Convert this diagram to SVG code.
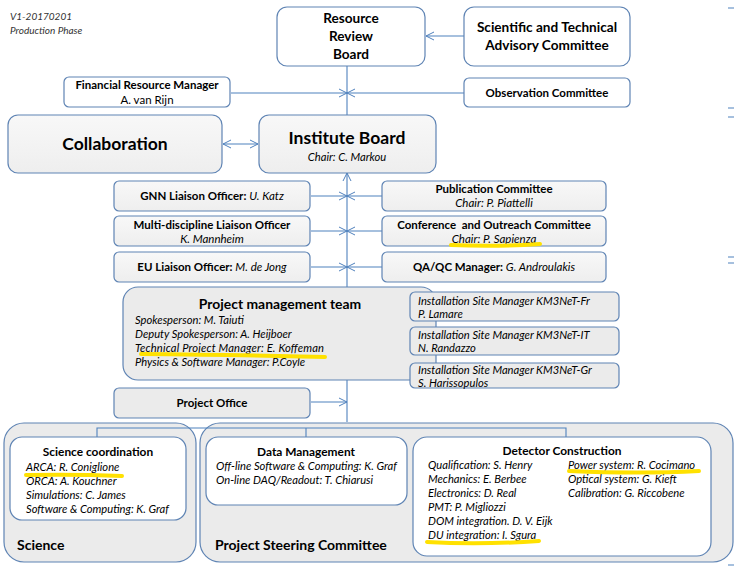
<svg xmlns="http://www.w3.org/2000/svg" width="734" height="567" viewBox="0 0 734 567">
<defs>
<marker id="ah" markerWidth="10" markerHeight="10" refX="9" refY="5" orient="auto" markerUnits="userSpaceOnUse">
<path d="M1,1 L9,5 L1,9" fill="none" stroke="#4f81bd" stroke-width="1"/>
</marker>
<marker id="ahs" markerWidth="10" markerHeight="10" refX="1" refY="5" orient="auto" markerUnits="userSpaceOnUse">
<path d="M9,1 L1,5 L9,9" fill="none" stroke="#4f81bd" stroke-width="1"/>
</marker>
<linearGradient id="g1" x1="0" y1="0" x2="0" y2="1">
<stop offset="0" stop-color="#f8f8f8"/><stop offset="1" stop-color="#eeeeee"/>
</linearGradient>
</defs>
<style>
text{font-family:Lato,"Liberation Sans",sans-serif;fill:#000}
.b{font-weight:bold}
.i{font-style:italic}
.c{text-anchor:middle}
.box{stroke:#5f84b4;stroke-width:1.2}
.w{fill:#ffffff}
.lg{fill:url(#g1)}
.g{fill:#ebebeb}
.ln{stroke:#4f81bd;stroke-width:1.1;fill:none}
.hl{stroke:#ffe100;stroke-width:4;fill:none;stroke-linecap:round}
.s9{font-size:11.2px}
.s10{font-size:11.5px}
.s11{font-size:11.9px}
</style>
<rect width="734" height="567" fill="#ffffff"/>
<text x="10" y="20" class="i" style="font-size:10px;fill:#333">V1-20170201</text>
<text x="10" y="34" class="i" style="font-size:10px;fill:#333">Production Phase</text>

<g id="connectors">
<line class="ln" x1="347" y1="66" x2="347" y2="115"/>
<line class="ln" x1="347" y1="422" x2="347" y2="173" marker-end="url(#ah)"/>
<line class="ln" x1="464" y1="36" x2="426" y2="36" marker-end="url(#ah)"/>
<line class="ln" x1="231" y1="93" x2="347" y2="93" marker-end="url(#ah)"/>
<line class="ln" x1="464" y1="93" x2="347" y2="93" marker-end="url(#ah)"/>
<line class="ln" x1="223" y1="144" x2="258" y2="144" marker-start="url(#ahs)" marker-end="url(#ah)"/>
<line class="ln" x1="311" y1="196" x2="347" y2="196" marker-end="url(#ah)"/>
<line class="ln" x1="382" y1="196" x2="347" y2="196" marker-end="url(#ah)"/>
<line class="ln" x1="311" y1="231" x2="347" y2="231" marker-end="url(#ah)"/>
<line class="ln" x1="382" y1="231" x2="347" y2="231" marker-end="url(#ah)"/>
<line class="ln" x1="311" y1="267" x2="347" y2="267" marker-end="url(#ah)"/>
<line class="ln" x1="382" y1="267" x2="347" y2="267" marker-end="url(#ah)"/>
<line class="ln" x1="311" y1="402" x2="347" y2="402" marker-end="url(#ah)"/>
<path class="ln" d="M728,8 H734 M728,108 H734 M728,117 H734 M728,257 H734 M728,263 H734 M728,565 H734"/>
</g>

<g id="science">
<rect class="box g" x="4" y="423" width="192" height="139" rx="20"/>
<text x="17" y="550" class="b" style="font-size:14px">Science</text>
</g>
<g id="psc">
<rect class="box g" x="200" y="423" width="533" height="139" rx="20"/>
<text x="215" y="550" class="b" style="font-size:14px">Project Steering Committee</text>
</g>
<path class="ln" d="M97,437 V428 H566 V437 M306,428 V437"/>

<g id="resource-review-board">
<rect class="box w" x="277" y="7" width="148" height="59" rx="10"/>
<text x="351" y="23" class="b c" style="font-size:13.6px">Resource</text>
<text x="351" y="41" class="b c" style="font-size:13.6px">Review</text>
<text x="351" y="59" class="b c" style="font-size:13.6px">Board</text>
</g>
<g id="stac">
<rect class="box w" x="464" y="7" width="166" height="59" rx="10"/>
<text x="547" y="32" class="b c" style="font-size:13.6px">Scientific and Technical</text>
<text x="547" y="50" class="b c" style="font-size:13.6px">Advisory Committee</text>
</g>
<g id="financial-resource-manager">
<rect class="box w" x="64" y="77" width="166" height="30" rx="5"/>
<text x="147" y="89" class="b c s10">Financial Resource Manager</text>
<text x="147" y="104" class="c s10">A. van Rijn</text>
</g>
<g id="observation-committee">
<rect class="box w" x="464" y="78" width="166" height="29" rx="5"/>
<text x="547" y="97" class="b c s10">Observation Committee</text>
</g>
<g id="collaboration">
<rect class="box lg" x="8" y="115" width="214" height="58" rx="10"/>
<text x="115" y="150" class="b c" style="font-size:17.5px">Collaboration</text>
</g>
<g id="institute-board">
<rect class="box lg" x="259" y="115" width="177" height="58" rx="10"/>
<text x="347" y="144" class="b c" style="font-size:17.5px">Institute Board</text>
<text x="347" y="161" class="i c s9">Chair: C. Markou</text>
</g>
<g id="gnn">
<rect class="box lg" x="114" y="181" width="196" height="30" rx="5"/>
<text x="212" y="200" class="c s10"><tspan class="b">GNN Liaison Officer: </tspan><tspan class="i">U. Katz</tspan></text>
</g>
<g id="multi-discipline">
<rect class="box lg" x="114" y="216" width="196" height="30" rx="5"/>
<text x="212" y="229" class="b c s10">Multi-discipline Liaison Officer</text>
<text x="212" y="243" class="i c s10">K. Mannheim</text>
</g>
<g id="eu">
<rect class="box lg" x="114" y="252" width="196" height="30" rx="5"/>
<text x="212" y="271" class="c s10"><tspan class="b">EU Liaison Officer: </tspan><tspan class="i">M. de Jong</tspan></text>
</g>
<g id="publication">
<rect class="box lg" x="382" y="181" width="224" height="30" rx="5"/>
<text x="494" y="193" class="b c s10">Publication Committee</text>
<text x="494" y="207" class="i c s10">Chair: P. Piattelli</text>
</g>
<g id="conference">
<rect class="box lg" x="382" y="216" width="224" height="30" rx="5"/>
<text x="494" y="229" class="b c s10" xml:space="preserve">Conference  and Outreach Committee</text>
<text x="494" y="243" class="i c s10">Chair: P. Sapienza</text>
<path class="hl" d="M451,245 Q495,247 540,244"/>
</g>
<g id="qaqc">
<rect class="box lg" x="382" y="252" width="224" height="30" rx="5"/>
<text x="494" y="271" class="c s10"><tspan class="b">QA/QC Manager: </tspan><tspan class="i">G. Androulakis</tspan></text>
</g>
<g id="project-management-team">
<rect class="box g" x="123" y="287" width="313" height="93" rx="15"/>
<text x="280" y="309" class="b c" style="font-size:13.9px">Project management team</text>
<text x="135" y="324" class="i s9">Spokesperson: M. Taiuti</text>
<text x="135" y="338" class="i s9">Deputy Spokesperson: A. Heijboer</text>
<text x="135" y="352" class="i s9" textLength="189" lengthAdjust="spacing">Technical Project Manager: E. Koffeman</text>
<text x="135" y="366" class="i s9">Physics &amp; Software Manager: P.Coyle</text>
<path class="hl" d="M141,354 Q240,355 325,357"/>
</g>
<g id="site-fr">
<rect class="box g" x="410" y="292" width="209" height="29" rx="5"/>
<text x="418" y="305" class="i s9">Installation Site Manager KM3NeT-Fr</text>
<text x="418" y="318" class="i s9">P. Lamare</text>
</g>
<g id="site-it">
<rect class="box g" x="410" y="327" width="209" height="28" rx="5"/>
<text x="418" y="339" class="i s9">Installation Site Manager KM3NeT-IT</text>
<text x="418" y="352" class="i s9">N. Randazzo</text>
</g>
<g id="site-gr">
<rect class="box g" x="410" y="363" width="209" height="25" rx="5"/>
<text x="418" y="374" class="i s9">Installation Site Manager KM3NeT-Gr</text>
<text x="418" y="387" class="i s9">S. Harissopulos</text>
</g>
<g id="project-office">
<rect class="box g" x="114" y="388" width="196" height="30" rx="5"/>
<text x="212" y="407" class="b c s10">Project Office</text>
</g>
<g id="science-coordination">
<rect class="box w" x="10" y="437" width="176" height="83" rx="12"/>
<text x="98" y="456" class="b c s11">Science coordination</text>
<text x="26" y="471" class="i s9">ARCA: R. Coniglione</text>
<text x="26" y="485" class="i s9">ORCA: A. Kouchner</text>
<text x="26" y="499" class="i s9">Simulations: C. James</text>
<text x="26" y="513" class="i s9">Software &amp; Computing: K. Graf</text>
<path class="hl" d="M26,475 Q75,474 122,476"/>
</g>
<g id="data-management">
<rect class="box w" x="206" y="437" width="201" height="68" rx="12"/>
<text x="306" y="456" class="b c s11">Data Management</text>
<text x="216" y="470" class="i s9">Off-line Software &amp; Computing: K. Graf</text>
<text x="216" y="484" class="i s9">On-line DAQ/Readout: T. Chiarusi</text>
</g>
<g id="detector-construction">
<rect class="box w" x="413" y="437" width="298" height="119" rx="14"/>
<text x="562" y="455" class="b c s11">Detector Construction</text>
<text x="428" y="469" class="i s9">Qualification: S. Henry</text>
<text x="428" y="483" class="i s9">Mechanics: E. Berbee</text>
<text x="428" y="497" class="i s9">Electronics: D. Real</text>
<text x="428" y="511" class="i s9">PMT: P. Migliozzi</text>
<text x="428" y="525" class="i s9">DOM integration. D. V. Eijk</text>
<text x="428" y="539" class="i s9">DU integration: I. Sgura</text>
<text x="568" y="469" class="i s9">Power system: R. Cocimano</text>
<text x="568" y="483" class="i s9">Optical system: G. Kieft</text>
<text x="568" y="497" class="i s9">Calibration: G. Riccobene</text>
<path class="hl" d="M569,471 Q640,474 699,471"/>
<path class="hl" d="M427,542 Q480,545 539,541"/>
</g>
</svg>
